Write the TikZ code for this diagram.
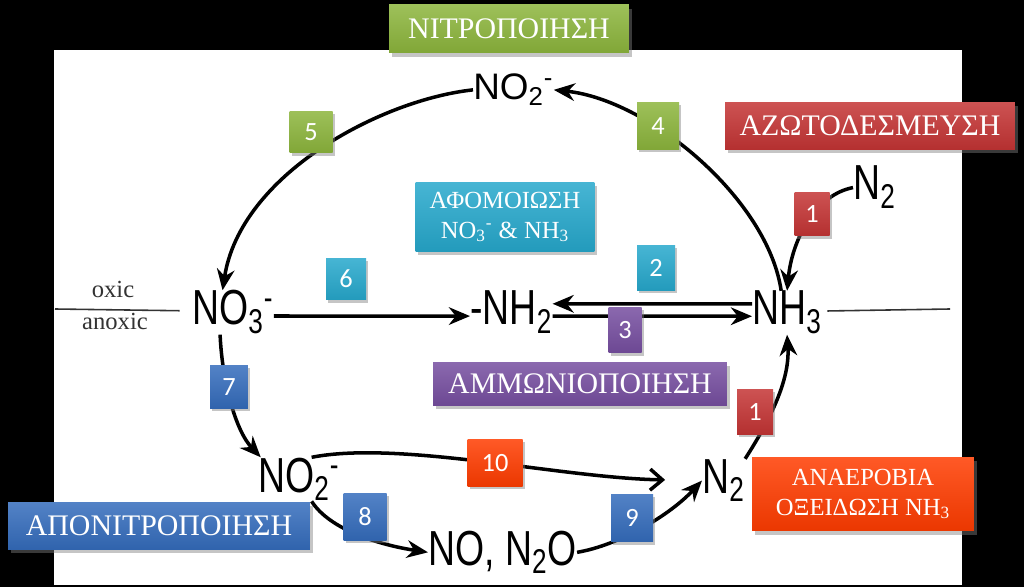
\documentclass[tikz,border=0pt]{standalone}
\usepackage{fontspec}
\setmainfont{Liberation Serif}
\newfontfamily\chemfont[FakeStretch=0.76]{Liberation Sans}
\newfontfamily\chemwide{Liberation Sans}
\newfontfamily\numfont{Carlito}
\usetikzlibrary{arrows.meta, shadows}

\definecolor{nitrgreen}{RGB}{140,181,60}
\definecolor{assimcyan}{RGB}{38,168,204}
\definecolor{ammonpurple}{RGB}{118,78,160}
\definecolor{denitblue}{RGB}{52,108,188}
\definecolor{fixred}{RGB}{196,52,52}
\definecolor{anammoxred}{RGB}{255,60,0}

\begin{document}
\begin{tikzpicture}[
    x=0.02cm, y=-0.02cm,
    chem/.style={inner sep=0pt, anchor=base west, font=\chemfont\fontsize{28}{30}\selectfont},
    stage/.style={top color=#1!85!white, bottom color=#1!92!black, text=white, inner sep=0pt,
        font=\fontsize{17}{17}\selectfont, align=center,
        drop shadow={shadow xshift=1.5pt, shadow yshift=-2pt, opacity=0.45}},
    stepnum/.style={top color=#1!85!white, bottom color=#1!92!black, text=white, inner sep=0pt,
        font=\numfont\fontsize{15}{15}\selectfont,
        drop shadow={shadow xshift=1.2pt, shadow yshift=-1.5pt, opacity=0.45}},
    flow/.style={line width=2pt, -{Stealth[length=12pt, width=10pt]}}
]

   % Background
   \useasboundingbox (0,0) rectangle (1024,587);
   \fill[black] (0,0) rectangle (1024,587);
   \fill[white] (54,50) rectangle (962,585);

   % Species
   \node[chem, font=\chemwide\fontsize{21}{23}\selectfont] (no2top) at (473,100) {NO\textsubscript{2}\textsuperscript{-}};
   \node[chem] (no3) at (192,325) {NO\textsubscript{3}\textsuperscript{-}};
   \node[chem] (nh2) at (470,325) {-NH\textsubscript{2}};
   \node[chem] (nh3) at (752,325) {NH\textsubscript{3}};
   \node[chem] (n2top) at (853,200) {N\textsubscript{2}};
   \node[chem] (no2bot) at (258,492) {NO\textsubscript{2}\textsuperscript{-}};
   \node[chem] (n2right) at (702,493) {N\textsubscript{2}};
   \node[chem] (non2o) at (428,565) {NO, N\textsubscript{2}O};

   % oxic / anoxic boundary
   \coordinate (oxleft) at (55,309);
   \coordinate (oxright) at (950,309);
   \draw[black!80, line width=0.9pt] (oxleft) -- ([xshift=-7pt,yshift=1pt]no3.west);
   \draw[black!80, line width=0.9pt] ([xshift=3pt,yshift=1pt]nh3.east) -- (oxright);
   \node[anchor=base, text=black!80, font=\fontsize{14}{14}\selectfont] (oxic) at (113,298) {oxic};
   \node[anchor=base, text=black!80, font=\fontsize{14}{14}\selectfont] (anoxic) at (115,330) {anoxic};

   % Transitions
   \draw[flow] (no2top.west) .. controls (380,100) and (240,175) .. (no3.115);
   \draw[flow] (nh3.105) .. controls (768,200) and (650,100) .. (no2top.east);
   \draw[flow] (n2top.west) .. controls (815,195) and (792,240) .. (nh3.north);
   \draw[flow] ([yshift=5pt]nh3.west) -- ([yshift=5pt]nh2.east);
   \draw[flow] ([yshift=-2pt]nh2.east) -- ([yshift=-2pt]nh3.west);
   \draw[flow] ([yshift=-2pt]no3.east) -- ([yshift=-2pt]nh2.west);
   \draw[flow] (no3.240) .. controls (222,380) and (235,430) .. (no2bot.150);
   \draw[flow] (no2bot.-60) .. controls (330,530) and (380,545) .. (non2o.west);
   \draw[flow] (non2o.east) .. controls (620,545) and (670,515) .. (n2right.west);
   \draw[flow] (n2right.north east) .. controls (770,420) and (790,380) .. (nh3.south);
   \draw[line width=2pt, -{Straight Barb[length=7pt, width=12pt]}, shorten >=21pt]
      (no2bot.60) .. controls (400,440) and (560,478) .. (n2right.west);

   % Step numbers
   \node[stepnum=nitrgreen, minimum width=0.86cm, minimum height=0.84cm] (s5) at (311,132) {5};
   \node[stepnum=nitrgreen, minimum width=0.84cm, minimum height=0.94cm] (s4) at (658,126) {4};
   \node[stepnum=fixred, minimum width=0.70cm, minimum height=0.88cm] (s1a) at (812,214) {1};
   \node[stepnum=assimcyan, minimum width=0.80cm, minimum height=0.84cm] (s6) at (346,279) {6};
   \node[stepnum=assimcyan, minimum width=0.76cm, minimum height=0.90cm] (s2) at (656,268) {2};
   \node[stepnum=ammonpurple, minimum width=0.66cm, minimum height=0.92cm] (s3) at (625,330) {3};
   \node[stepnum=denitblue, minimum width=0.76cm, minimum height=0.86cm] (s7) at (229,387) {7};
   \node[stepnum=fixred, minimum width=0.72cm, minimum height=0.90cm] (s1b) at (755,412) {1};
   \node[stepnum=anammoxred, minimum width=1.10cm, minimum height=0.94cm] (s10) at (495,463) {10};
   \node[stepnum=denitblue, minimum width=0.86cm, minimum height=0.94cm] (s8) at (365,517) {8};
   \node[stepnum=denitblue, minimum width=0.84cm, minimum height=0.96cm] (s9) at (632,518) {9};

   % Processes
   \node[stage=nitrgreen, minimum width=4.8cm, minimum height=0.96cm] (nitro) at (509,29) {ΝΙΤΡΟΠΟΙΗΣΗ};
   \node[stage=fixred, minimum width=5.8cm, minimum height=0.94cm] (fixation) at (870,126) {ΑΖΩΤΟΔΕΣΜΕΥΣΗ};
   \node[stage=assimcyan, minimum width=3.58cm, minimum height=1.38cm, font=\fontsize{14}{17}\selectfont] (assim) at (505,217)
      {ΑΦΟΜΟΙΩΣΗ\\NO\textsubscript{3}\textsuperscript{-} \& NH\textsubscript{3}};
   \node[stage=ammonpurple, minimum width=5.88cm, minimum height=0.86cm] (ammon) at (580,384) {ΑΜΜΩΝΙΟΠΟΙΗΣΗ};
   \node[stage=denitblue, minimum width=6.04cm, minimum height=0.94cm] (denit) at (159,526) {ΑΠΟΝΙΤΡΟΠΟΙΗΣΗ};
   \node[stage=anammoxred, minimum width=4.44cm, minimum height=1.48cm, font=\fontsize{14}{17}\selectfont] (anammox) at (863,494)
      {ΑΝΑΕΡΟΒΙΑ\\ΟΞΕΙΔΩΣΗ NH\textsubscript{3}};
\end{tikzpicture}
\end{document}
